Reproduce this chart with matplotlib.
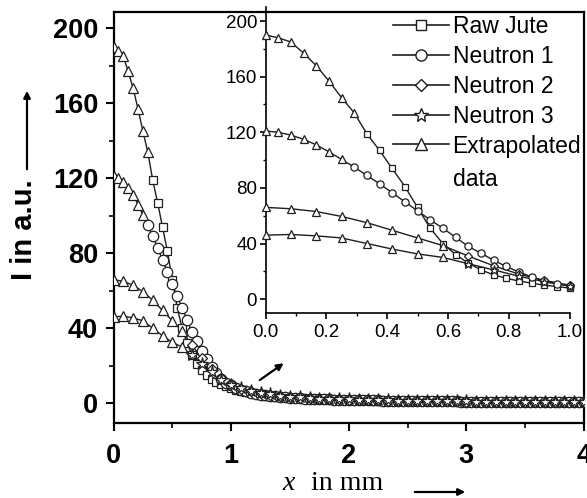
# grafico de intensidad frente a x, con un zoom de 0 a 1 mm dentro

import numpy as np
import matplotlib
matplotlib.use("Agg")
import matplotlib.pyplot as plt
from matplotlib.lines import Line2D
from matplotlib.ticker import MultipleLocator

plt.rcParams["font.family"] = ["Liberation Sans", "DejaVu Sans"]

# rejilla de x en mm: las dos curvas de arriba van cada 1/24 mm, las de abajo cada 1/12 mm
x_fino = np.arange(97) / 24
x_grueso = np.arange(49) / 12

# intensidades (u.a.)
jute = [190, 188, 185, 177, 168, 157, 145, 134, 119, 107, 94, 81, 66, 51, 40, 32,
        26, 21, 17.5, 15, 13, 11.5, 10, 9, 8,
        7.2, 6.5, 5.9, 5.4, 4.9, 4.5, 4.1, 3.8, 3.5, 3.3, 3.1, 2.9, 2.7, 2.6, 2.4, 2.3,
        2.2, 2.1, 2.0, 1.9, 1.8, 1.8, 1.7, 1.6,
        1.6, 1.6, 1.5, 1.5, 1.4, 1.4, 1.4, 1.3, 1.3, 1.3, 1.2, 1.2, 1.2, 1.1, 1.1, 1.1,
        1.1, 1.0, 1.0, 1.0, 1.0, 0.9, 0.9, 0.9, 0.9, 0.9, 0.8, 0.8, 0.8, 0.8, 0.8, 0.8,
        0.7, 0.7, 0.7, 0.7, 0.7, 0.7, 0.7, 0.6, 0.6, 0.6, 0.6, 0.6, 0.6, 0.6, 0.5, 0.5]
neutron1 = [121, 120, 118, 115, 111, 106, 100.5, 95, 89, 83, 76.5, 70, 63.5, 57, 51,
            44.5, 38, 33, 28, 23.5, 19.5, 16, 13, 11, 9.5,
            8.2, 7.2, 6.4, 5.7, 5.1, 4.6, 4.2, 3.9, 3.6, 3.3, 3.1, 2.9, 2.8, 2.6, 2.5,
            2.4, 2.3, 2.2, 2.1, 2.0, 1.9, 1.9, 1.8, 1.7,
            1.7, 1.6, 1.6, 1.5, 1.5, 1.5, 1.4, 1.4, 1.3, 1.3, 1.3, 1.2, 1.2, 1.2, 1.2,
            1.1, 1.1, 1.1, 1.0, 1.0, 1.0, 1.0, 0.9, 0.9, 0.9, 0.9, 0.9, 0.8, 0.8, 0.8,
            0.8, 0.8, 0.7, 0.7, 0.7, 0.7, 0.7, 0.7, 0.6, 0.6, 0.6, 0.6, 0.6, 0.6, 0.6,
            0.5, 0.5, 0.5]
neutron2 = [66, 65, 63, 59.5, 55, 49.5, 44, 38.5, 31, 24, 18, 13.5, 10,
            7.8, 6.4, 5.3, 4.5, 3.9, 3.4, 3.0, 2.7, 2.4, 2.2, 2.0, 1.9, 1.8, 1.6, 1.5,
            1.4, 1.3, 1.3, 1.2, 1.1, 1.1, 1.0, 1.0, 0.9, 0.9, 0.9, 0.8, 0.8, 0.8, 0.7,
            0.7, 0.7, 0.6, 0.6, 0.6, 0.6]
neutron3 = [46, 46.5, 45.5, 44, 40, 36, 32.5, 30, 25.5, 21, 16.5, 12.5, 9.5,
            8.0, 6.6, 5.5, 4.7, 4.0, 3.5, 3.1, 2.8, 2.5, 2.3, 2.1, 2.0, 1.8, 1.7, 1.6,
            1.5, 1.4, 1.3, 1.2, 1.2, 1.1, 1.1, 1.0, 1.0, 0.9, 0.9, 0.9, 0.8, 0.8, 0.8,
            0.7, 0.7, 0.7, 0.7, 0.6, 0.6]

# cuantos puntos del principio de cada curva son extrapolados (triangulos)
n_extrap = [8, 7, 8, 8]

etiquetas = ["Raw Jute", "Neutron 1", "Neutron 2", "Neutron 3", "Extrapolated"]
marcadores = ["s", "o", "D", "*", "^"]

GRIS = "#1e1e1e"
# tamanos relativos de cada marcador para que se vean parecidos
TAM = {"s": 0.85, "o": 1.0, "D": 0.72, "*": 1.25, "^": 1.0}

xs = [x_fino, x_fino, x_grueso, x_grueso]
ys = [jute, neutron1, neutron2, neutron3]


def dibujar_curvas(ax, ms, xmax=None, clip=True):
    # linea continua y luego los marcadores: triangulos en la parte extrapolada
    for x, y, k, m in zip(xs, ys, n_extrap, marcadores[:4]):
        y = np.asarray(y, dtype=float)
        if xmax is not None:
            sel = x <= xmax + 1e-9
            x, y = x[sel], y[sel]
        ax.plot(x, y, color=GRIS, lw=1.0, zorder=2, clip_on=clip)
        ax.plot(x[:k], y[:k], ls="none", marker="^", ms=ms * TAM["^"], mfc="white",
                mec=GRIS, mew=0.9, zorder=3, clip_on=clip)
        ax.plot(x[k:], y[k:], ls="none", marker=m, ms=ms * TAM[m], mfc="white",
                mec=GRIS, mew=0.9, zorder=3, clip_on=clip)


W, H = 587, 498
fig = plt.figure(figsize=(W / 100, H / 100), dpi=100)

# panel principal
ax = fig.add_axes([113.5 / W, 1 - 423.3 / H, 470.5 / W, 411.3 / H])
dibujar_curvas(ax, 7.5)
ax.set_xlim(0, 4)
ax.set_ylim(-10.7, 208.7)
ax.xaxis.set_major_locator(MultipleLocator(1))
ax.xaxis.set_minor_locator(MultipleLocator(0.5))
ax.yaxis.set_major_locator(MultipleLocator(40))
ax.yaxis.set_minor_locator(MultipleLocator(20))
ax.tick_params(which="major", direction="out", length=6, width=1.5, top=False, right=False)
ax.tick_params(which="minor", direction="out", length=3.5, width=1.2, top=False, right=False)
ax.tick_params(axis="x", which="major", pad=8, labelsize=19.5)
ax.tick_params(axis="y", which="major", pad=5, labelsize=19.5)
for lab in ax.get_xticklabels() + ax.get_yticklabels():
    lab.set_fontweight("bold")
for spine in ax.spines.values():
    spine.set_linewidth(1.6)

# flecha que apunta al zoom
ax.annotate("", xy=(1.466, 22.2), xytext=(1.224, 11.5),
            arrowprops=dict(arrowstyle="-|>", lw=1.6, color="k", mutation_scale=10))

# panel de zoom entre 0 y 1 mm
axin = fig.add_axes([265.5 / W, 1 - 313 / H, 304 / W, 305.8 / H])
axin.patch.set_visible(False)
dibujar_curvas(axin, 5.2, xmax=1.0, clip=False)
axin.set_xlim(0, 1.0)
axin.set_ylim(-10, 210)
axin.xaxis.set_major_locator(MultipleLocator(0.2))
axin.xaxis.set_minor_locator(MultipleLocator(0.1))
axin.yaxis.set_major_locator(MultipleLocator(40))
axin.yaxis.set_minor_locator(MultipleLocator(20))
axin.xaxis.set_major_formatter(lambda v, p: f"{v:.1f}")
axin.tick_params(which="major", direction="out", length=4, width=1.2, labelsize=13.5)
axin.tick_params(which="minor", direction="out", length=2.5, width=1.0)
axin.tick_params(axis="x", pad=4)
axin.tick_params(axis="y", pad=2)
axin.spines["top"].set_visible(False)
axin.spines["right"].set_visible(False)
for s in ("left", "bottom"):
    axin.spines[s].set_linewidth(1.2)

# leyenda arriba a la derecha, sin marco
handles = [Line2D([], [], color=GRIS, lw=1.2, marker=m, ms=8 * TAM[m], mfc="white",
                  mec=GRIS, mew=1.0) for m in marcadores]
leg = fig.legend(handles, etiquetas, loc="upper left", bbox_to_anchor=(393 / W, 1 - 15 / H),
                 frameon=False, borderpad=0, borderaxespad=0, handlelength=2.45,
                 handletextpad=0.15, labelspacing=0.3, fontsize=16.5)

# la segunda linea "data" va debajo de "Extrapolated", alineada con el texto
fig.canvas.draw()
caja = leg.get_texts()[-1].get_window_extent()
fig.text(caja.x0 / W, (caja.y0 + caja.y1) / 2 / H - 33 / H, "data", ha="left",
         va="center", fontsize=16.5)

# etiqueta del eje y con su flecha
fig.text(24 / W, 1 - 230 / H, "I in a.u.", rotation=90, ha="center", va="center",
         fontsize=21, fontweight="bold")
fig.add_artist(matplotlib.patches.FancyArrowPatch(
    (27 / W, 1 - 172 / H), (27 / W, 1 - 88 / H), transform=fig.transFigure,
    arrowstyle="-|>", lw=1.6, color="k", mutation_scale=10))

# etiqueta del eje x: x en cursiva, "in mm" normal, y flecha
fig.text(288.5 / W, 8 / H, "x", ha="center", va="baseline", fontsize=20,
         family="Liberation Serif", style="italic")
fig.text(311 / W, 8 / H, "in mm", ha="left", va="baseline", fontsize=20,
         family="Liberation Serif")
fig.add_artist(matplotlib.patches.FancyArrowPatch(
    (412 / W, 6 / H), (468 / W, 6 / H), transform=fig.transFigure,
    arrowstyle="-|>", lw=1.6, color="k", mutation_scale=10))

fig.savefig("out.png", dpi=100)
